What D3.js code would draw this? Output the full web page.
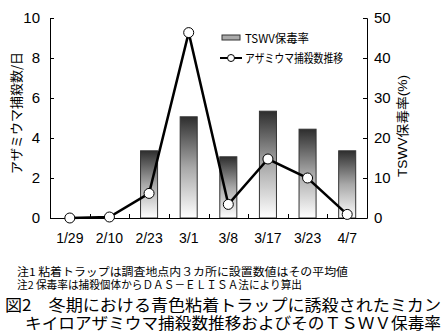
<!DOCTYPE html>
<html><head><meta charset="utf-8">
<script src="https://cdn.jsdelivr.net/npm/d3@7"></script>
<style>
body{margin:0;background:#fff;}
svg{display:block;font-family:"Liberation Sans","Noto Sans CJK JP",sans-serif;}
.jp{font-family:"Noto Sans CJK JP",sans-serif;}
</style></head>
<body><svg id="c" width="442" height="334"></svg>
<script>
const categories = ["1/29","2/10","2/23","3/1","3/8","3/17","3/23","4/7"];
const catchCounts = [0, 0.05, 1.23, 9.27, 0.68, 2.95, 2.0, 0.18];
const tswvRates = [null, null, 16.8, 25.3, 15.3, 26.7, 22.2, 16.8];
const leftTicks = [0,2,4,6,8,10];
const rightTicks = [0,10,20,30,40,50];
const seriesNames = ["TSWV保毒率","アザミウマ捕殺数推移"];
const leftLabel = "アザミウマ捕殺数/日";
const rightLabel = "TSWV保毒率(%)";
const notes = ["注1 粘着トラップは調査地点内３カ所に設置数値はその平均値","注2 保毒率は捕殺個体からＤＡＳ－ＥＬＩＳＡ法により算出"];
const titleLines = ["図2　冬期における青色粘着トラップに誘殺されたミカン","キイロアザミウマ捕殺数推移およびそのＴＳＷＶ保毒率"];

const svg = d3.select("#c");
const L=50, R=367, T=18, B=218;
const x = d3.scaleBand().domain(categories).range([L,R]).paddingInner(0.57).paddingOuter(0.285);
const xb = d3.scaleBand().domain(categories).range([L,R]);
const yL = d3.scaleLinear().domain([0,10]).range([B,T]);
const yR = d3.scaleLinear().domain([0,50]).range([B,T]);

const defs = svg.append("defs");
const g = defs.append("linearGradient").attr("id","bg").attr("x1",0).attr("y1",0).attr("x2",0).attr("y2",1);
g.append("stop").attr("offset","0%").attr("stop-color","#2e2e2e");
g.append("stop").attr("offset","50%").attr("stop-color","#a8a8a8");
g.append("stop").attr("offset","100%").attr("stop-color","#ffffff");

// bars
svg.append("g").selectAll("rect").data(categories.map((c,i)=>({c,v:tswvRates[i]})).filter(d=>d.v!=null))
 .join("rect")
 .attr("x",d=>x(d.c)).attr("width",x.bandwidth())
 .attr("y",d=>yR(d.v)).attr("height",d=>B-yR(d.v))
 .attr("fill","url(#bg)").attr("stroke","#333").attr("stroke-width",1);

// axes
const axL = d3.axisLeft(yL).tickValues(leftTicks).tickSize(-4).tickPadding(10);
const axR = d3.axisRight(yR).tickValues(rightTicks).tickSize(-4).tickPadding(7);
const gl = svg.append("g").attr("transform",`translate(${L},0)`).call(axL);
const gr = svg.append("g").attr("transform",`translate(${R},0)`).call(axR);
[gl,gr].forEach(a=>{a.select(".domain").attr("stroke","#000");a.selectAll(".tick line").attr("stroke","#000");
 a.selectAll("text").attr("font-size",15).attr("fill","#000").attr("font-family","Liberation Sans, sans-serif");});

// bottom axis
svg.append("line").attr("x1",L).attr("x2",R).attr("y1",B+0.5).attr("y2",B+0.5).attr("stroke","#000");
svg.append("g").selectAll("line").data(categories.slice(1)).join("line")
 .attr("x1",d=>Math.round(xb(d))+0.5).attr("x2",d=>Math.round(xb(d))+0.5).attr("y1",B).attr("y2",B-4).attr("stroke","#000");
svg.append("g").selectAll("text").data(categories).join("text")
 .attr("x",d=>xb(d)+xb.bandwidth()/2).attr("y",B+25).attr("text-anchor","middle")
 .attr("font-size",14).text(d=>d);

// line
const line = d3.line().x((d,i)=>xb(categories[i])+xb.bandwidth()/2).y(d=>yL(d));
svg.append("path").datum(catchCounts).attr("d",line).attr("fill","none").attr("stroke","#000").attr("stroke-width",2.5);
svg.append("g").selectAll("circle").data(catchCounts).join("circle")
 .attr("cx",(d,i)=>xb(categories[i])+xb.bandwidth()/2).attr("cy",d=>yL(d)).attr("r",5)
 .attr("fill","#fff").attr("stroke","#000").attr("stroke-width",1);

// axis titles
svg.append("text").attr("class","jp").attr("transform",`translate(21,113) rotate(-90)`).attr("text-anchor","middle")
 .attr("font-size",13).text(leftLabel);
svg.append("text").attr("transform",`translate(407,126) rotate(-90)`).attr("text-anchor","middle")
 .attr("font-size",13).attr("textLength",102).attr("lengthAdjust","spacingAndGlyphs").text(rightLabel);

// legend
svg.append("rect").attr("x",222).attr("y",35).attr("width",18).attr("height",5).attr("fill","#aaa").attr("stroke","#333");
svg.append("text").attr("class","jp").attr("x",245).attr("y",43).attr("font-size",12).attr("textLength",64).attr("lengthAdjust","spacingAndGlyphs").text(seriesNames[0]);
svg.append("line").attr("x1",220).attr("x2",242).attr("y1",58).attr("y2",58).attr("stroke","#000").attr("stroke-width",2);
svg.append("circle").attr("cx",231).attr("cy",58).attr("r",3.5).attr("fill","#fff").attr("stroke","#000");
svg.append("text").attr("class","jp").attr("x",245).attr("y",63).attr("font-size",12).attr("textLength",98).attr("lengthAdjust","spacingAndGlyphs").text(seriesNames[1]);

// notes
svg.append("text").attr("class","jp").attr("x",17).attr("y",276).attr("font-size",11).attr("textLength",331).attr("lengthAdjust","spacingAndGlyphs").text(notes[0]);
svg.append("text").attr("class","jp").attr("x",17).attr("y",289).attr("font-size",11).attr("textLength",285).attr("lengthAdjust","spacingAndGlyphs").text(notes[1]);
svg.append("text").attr("class","jp").attr("x",5).attr("y",311).attr("font-size",16).attr("textLength",436).attr("lengthAdjust","spacingAndGlyphs").text(titleLines[0]);
svg.append("text").attr("class","jp").attr("x",25).attr("y",329).attr("font-size",16).attr("textLength",416).attr("lengthAdjust","spacingAndGlyphs").text(titleLines[1]);
</script></body></html>
